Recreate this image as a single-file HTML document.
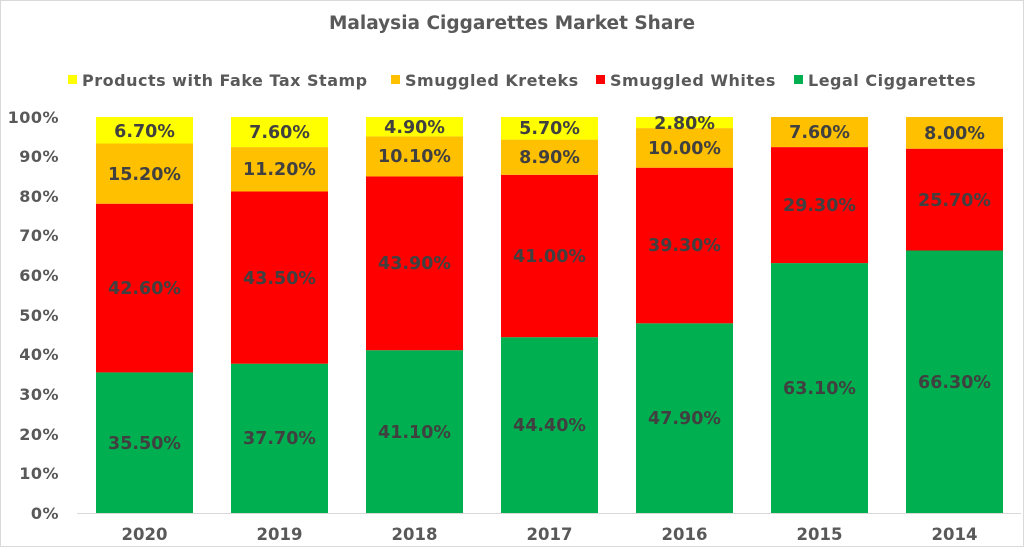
<!DOCTYPE html>
<html><head><meta charset="utf-8"><style>
html,body{margin:0;padding:0;background:#fff}
svg{display:block}
text{font-family:"DejaVu Sans","Liberation Sans",sans-serif;font-weight:bold}
.t{fill:#404040;font-size:17.5px;text-anchor:middle}
.y{fill:#595959;font-size:16px;text-anchor:end;letter-spacing:0.5px}
.x{fill:#595959;font-size:16.5px;text-anchor:middle}
.l{fill:#595959;font-size:16px;letter-spacing:0.5px}
</style></head><body>
<svg width="1024" height="547" viewBox="0 0 1024 547" xmlns="http://www.w3.org/2000/svg">
<rect x="0.5" y="0.5" width="1023" height="546" fill="#fff" stroke="#d9d9d9"/>
<text x="512" y="29" text-anchor="middle" style="fill:#595959;font-size:18.5px">Malaysia Ciggarettes Market Share</text>
<rect x="68" y="75" width="9" height="9" fill="#FFFF00"/><text class="l" x="82" y="86">Products with Fake Tax Stamp</text>
<rect x="391" y="75" width="9" height="9" fill="#FFC000"/><text class="l" x="405" y="86">Smuggled Kreteks</text>
<rect x="596" y="75" width="9" height="9" fill="#FF0000"/><text class="l" x="610" y="86">Smuggled Whites</text>
<rect x="794" y="75" width="9" height="9" fill="#00B050"/><text class="l" x="808" y="86">Legal Ciggarettes</text>
<g>
<text class="y" x="59" y="519">0%</text>
<text class="y" x="59" y="479">10%</text>
<text class="y" x="59" y="440">20%</text>
<text class="y" x="59" y="400">30%</text>
<text class="y" x="59" y="360">40%</text>
<text class="y" x="59" y="321">50%</text>
<text class="y" x="59" y="281">60%</text>
<text class="y" x="59" y="241">70%</text>
<text class="y" x="59" y="202">80%</text>
<text class="y" x="59" y="162">90%</text>
<text class="y" x="59" y="123">100%</text>
</g>
<rect x="96" y="372.4" width="97" height="140.6" fill="#00B050"/>
<rect x="96" y="203.7" width="97" height="168.7" fill="#FF0000"/>
<rect x="96" y="143.5" width="97" height="60.2" fill="#FFC000"/>
<rect x="96" y="117" width="97" height="26.5" fill="#FFFF00"/>
<text class="t" x="144.5" y="449">35.50%</text><text class="t" x="144.5" y="294">42.60%</text><text class="t" x="144.5" y="180">15.20%</text><text class="t" x="144.5" y="137">6.70%</text>
<rect x="231" y="363.7" width="97" height="149.3" fill="#00B050"/>
<rect x="231" y="191.5" width="97" height="172.2" fill="#FF0000"/>
<rect x="231" y="147.1" width="97" height="44.4" fill="#FFC000"/>
<rect x="231" y="117" width="97" height="30.1" fill="#FFFF00"/>
<text class="t" x="279.5" y="444">37.70%</text><text class="t" x="279.5" y="284">43.50%</text><text class="t" x="279.5" y="175">11.20%</text><text class="t" x="279.5" y="138">7.60%</text>
<rect x="366" y="350.2" width="97" height="162.8" fill="#00B050"/>
<rect x="366" y="176.4" width="97" height="173.8" fill="#FF0000"/>
<rect x="366" y="136.4" width="97" height="40" fill="#FFC000"/>
<rect x="366" y="117" width="97" height="19.4" fill="#FFFF00"/>
<text class="t" x="414.5" y="438">41.10%</text><text class="t" x="414.5" y="269">43.90%</text><text class="t" x="414.5" y="162">10.10%</text><text class="t" x="414.5" y="133">4.90%</text>
<rect x="501" y="337.2" width="97" height="175.8" fill="#00B050"/>
<rect x="501" y="174.8" width="97" height="162.4" fill="#FF0000"/>
<rect x="501" y="139.6" width="97" height="35.2" fill="#FFC000"/>
<rect x="501" y="117" width="97" height="22.6" fill="#FFFF00"/>
<text class="t" x="549.5" y="431">44.40%</text><text class="t" x="549.5" y="262">41.00%</text><text class="t" x="549.5" y="163">8.90%</text><text class="t" x="549.5" y="134">5.70%</text>
<rect x="636" y="323.3" width="97" height="189.7" fill="#00B050"/>
<rect x="636" y="167.7" width="97" height="155.6" fill="#FF0000"/>
<rect x="636" y="128.1" width="97" height="39.6" fill="#FFC000"/>
<rect x="636" y="117" width="97" height="11.1" fill="#FFFF00"/>
<text class="t" x="684.5" y="424">47.90%</text><text class="t" x="684.5" y="251">39.30%</text><text class="t" x="684.5" y="154">10.00%</text><text class="t" x="684.5" y="129">2.80%</text>
<rect x="771" y="263.1" width="97" height="249.9" fill="#00B050"/>
<rect x="771" y="147.1" width="97" height="116" fill="#FF0000"/>
<rect x="771" y="117" width="97" height="30.1" fill="#FFC000"/>
<text class="t" x="819.5" y="394">63.10%</text><text class="t" x="819.5" y="211">29.30%</text><text class="t" x="819.5" y="138">7.60%</text>
<rect x="906" y="250.5" width="97" height="262.5" fill="#00B050"/>
<rect x="906" y="148.7" width="97" height="101.8" fill="#FF0000"/>
<rect x="906" y="117" width="97" height="31.7" fill="#FFC000"/>
<text class="t" x="954.5" y="388">66.30%</text><text class="t" x="954.5" y="206">25.70%</text><text class="t" x="954.5" y="139">8.00%</text>
<line x1="77" y1="513.5" x2="1021" y2="513.5" stroke="#d9d9d9" stroke-width="1"/>
<text class="x" x="144.5" y="540">2020</text>
<text class="x" x="279.5" y="540">2019</text>
<text class="x" x="414.5" y="540">2018</text>
<text class="x" x="549.5" y="540">2017</text>
<text class="x" x="684.5" y="540">2016</text>
<text class="x" x="819.5" y="540">2015</text>
<text class="x" x="954.5" y="540">2014</text>
</svg>
</body></html>
